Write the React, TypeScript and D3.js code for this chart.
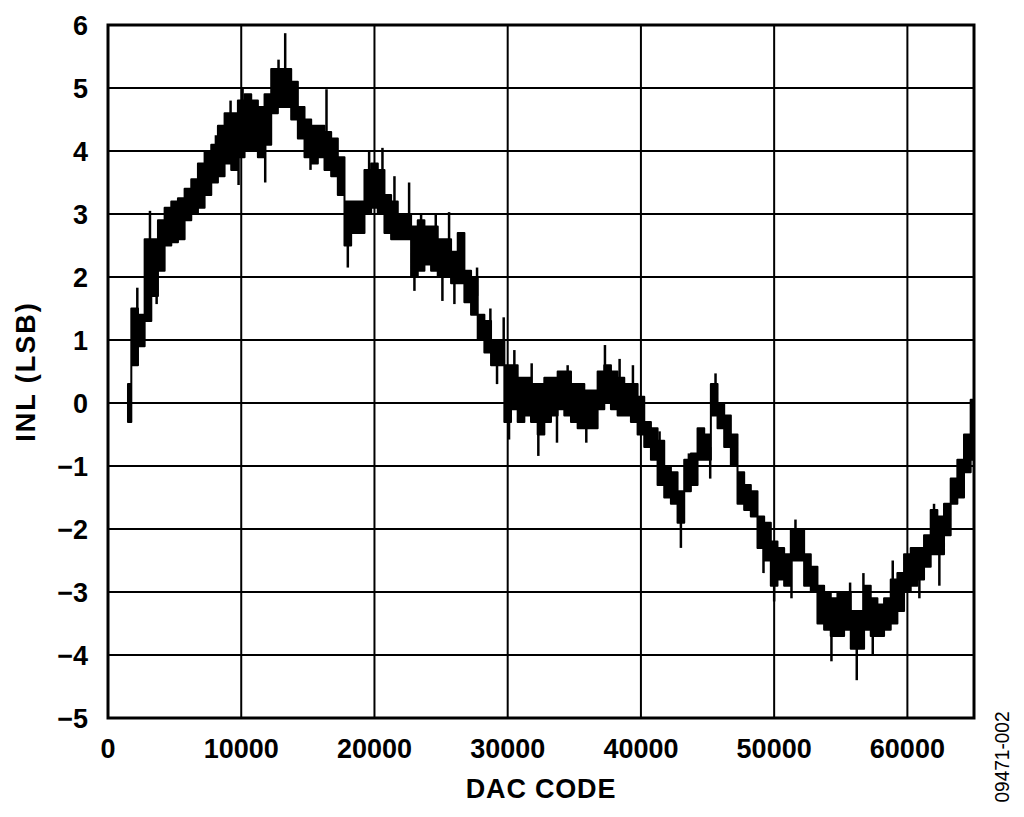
import * as d3 from "d3";

const WIDTH = 1024;
const HEIGHT = 817;
const MARGIN = { top: 25, right: 50, bottom: 99, left: 108 };
const FONT = "'Liberation Sans', Arial, Helvetica, sans-serif";

// DAC code sample points and the INL band (low/high)
const codes = [
  1500, 2000, 2500, 3000, 3500, 4000, 4500, 5000, 5500, 6000, 6500, 7000, 7500, 8000,
  8500, 9000, 9500, 10000, 10500, 11000, 11500, 12000, 12500, 13000, 13500, 14000,
  14500, 15000, 15500, 16000, 16500, 17000, 17500, 18000, 18500, 19000, 19500, 20000,
  20500, 21000, 21500, 22000, 22500, 23000, 23500, 24000, 24500, 25000, 25500, 26000,
  26500, 27000, 27500, 28000, 28500, 29000, 29500, 30000, 30500, 31000, 31500, 32000,
  32500, 33000, 33500, 34000, 34500, 35000, 35500, 36000, 36500, 37000, 37500, 38000,
  38500, 39000, 39500, 40000, 40500, 41000, 41500, 42000, 42500, 43000, 43500, 44000,
  44500, 45000, 45500, 46000, 46500, 47000, 47500, 48000, 48500, 49000, 49500, 50000,
  50500, 51000, 51500, 52000, 52500, 53000, 53500, 54000, 54500, 55000, 55500, 56000,
  56500, 57000, 57500, 58000, 58500, 59000, 59500, 60000, 60500, 61000, 61500, 62000,
  62500, 63000, 63500, 64000, 64500, 65000,
];

const bandLo = [
  -0.3, 0.6, 0.9, 1.3, 1.7, 2.1, 2.5, 2.55, 2.6, 2.9, 3.0, 3.1, 3.3, 3.5,
  3.6, 3.8, 3.7, 3.9, 4.0, 4.0, 3.9, 4.1, 4.6, 4.7, 4.7, 4.5,
  4.2, 3.9, 3.8, 3.9, 3.7, 3.6, 3.3, 2.5, 2.7, 2.7, 3.0, 3.1,
  3.0, 2.7, 2.6, 2.6, 2.6, 2.0, 2.1, 2.2, 2.1, 2.0, 2.0, 1.9,
  1.9, 1.6, 1.4, 1.0, 0.8, 0.6, 0.6, -0.3, -0.1, -0.3, -0.2, -0.3,
  -0.5, -0.3, -0.2, -0.1, -0.2, -0.3, -0.4, -0.4, -0.4, -0.1, 0.0, -0.1,
  -0.2, -0.2, -0.3, -0.5, -0.7, -0.9, -1.3, -1.5, -1.6, -1.9, -1.4, -1.3,
  -0.9, -0.9, -0.2, -0.4, -0.7, -1.0, -1.6, -1.7, -1.8, -2.3, -2.5, -2.9,
  -2.8, -2.9, -2.5, -2.5, -2.9, -3.0, -3.5, -3.6, -3.7, -3.7, -3.6, -3.9,
  -3.9, -3.6, -3.7, -3.7, -3.6, -3.5, -3.3, -3.0, -2.9, -2.8, -2.6, -2.4,
  -2.4, -2.1, -1.6, -1.5, -1.1, -0.9,
];

const bandHi = [
  0.3, 1.5, 1.4, 2.6, 2.6, 2.9, 3.1, 3.2, 3.25, 3.4, 3.55, 3.8, 4.0, 4.1,
  4.4, 4.6, 4.6, 4.8, 4.9, 4.8, 4.7, 4.9, 5.3, 5.3, 5.3, 5.1,
  4.7, 4.5, 4.4, 4.4, 4.3, 4.2, 3.9, 3.2, 3.2, 3.2, 3.7, 3.8,
  3.7, 3.3, 3.2, 3.0, 3.0, 2.8, 2.9, 2.8, 2.8, 2.6, 2.6, 2.4,
  2.7, 2.1, 2.0, 1.4, 1.3, 1.0, 1.0, 0.6, 0.6, 0.4, 0.4, 0.3,
  0.3, 0.4, 0.4, 0.5, 0.5, 0.3, 0.3, 0.2, 0.2, 0.5, 0.6, 0.5,
  0.4, 0.3, 0.3, 0.1, -0.3, -0.4, -0.6, -1.0, -1.1, -1.4, -0.9, -0.8,
  -0.4, -0.5, 0.3, 0.0, -0.2, -0.5, -1.1, -1.3, -1.4, -1.8, -1.9, -2.2,
  -2.3, -2.4, -2.0, -2.0, -2.4, -2.6, -2.9, -3.0, -3.1, -3.0, -3.0, -3.3,
  -3.3, -2.9, -3.1, -3.2, -3.1, -2.8, -2.7, -2.4, -2.3, -2.3, -2.1, -1.7,
  -1.8, -1.6, -1.2, -0.9, -0.5, 0.05,
];

// isolated noise spikes (code, INL value)
const spikeCodes = [
  1600, 2200, 3150, 3650, 8100, 9200, 9800, 10100, 11800, 12800, 13300, 15200,
  16400, 18000, 19600, 20600, 21500, 22600, 23000, 23500, 24600, 25100, 25600, 26000,
  27700, 28700, 29200, 29700, 30100, 30500, 31800, 32300, 33700, 34500, 35900, 37300,
  38400, 39400, 41400, 43000, 43600, 45200, 45600, 49200, 50000, 51300, 51600, 54300,
  55700, 56200, 56700, 57400, 58900, 60900, 62000, 62400,
];
const spikeValues = [
  -0.3, 1.83, 3.05, 1.57, 4.25, 4.8, 3.46, 5.0, 3.5, 5.45, 5.87, 3.7,
  4.98, 2.15, 4.0, 4.05, 3.6, 3.5, 1.78, 3.0, 3.0, 1.62, 3.03, 1.57,
  2.15, 1.5, 0.3, 1.36, -0.58, 0.84, 0.63, -0.84, -0.63, 0.6, -0.63, 0.92,
  0.7, 0.6, -0.45, -2.3, -0.8, -1.2, 0.47, -2.7, -3.15, -3.1, -1.85, -4.1,
  -2.85, -4.4, -2.7, -4.0, -2.5, -3.1, -1.6, -2.9,
];

const xTicks = [0, 10000, 20000, 30000, 40000, 50000, 60000];
const yTicks = [-5, -4, -3, -2, -1, 0, 1, 2, 3, 4, 5, 6];

const fmtY = (v: number) => (v < 0 ? "\u2212" + Math.abs(v) : String(v));

export default function App() {
  const innerW = WIDTH - MARGIN.left - MARGIN.right;
  const innerH = HEIGHT - MARGIN.top - MARGIN.bottom;

  const x = d3.scaleLinear().domain([0, 65000]).range([0, innerW]);
  const y = d3.scaleLinear().domain([-5, 6]).range([innerH, 0]);

  const band = codes.map((c, i) => ({ c, lo: bandLo[i], hi: bandHi[i] }));

  const area = d3
    .area<{ c: number; lo: number; hi: number }>()
    .x((d) => x(d.c))
    .y0((d) => y(d.lo))
    .y1((d) => y(d.hi))
    .curve(d3.curveStep);

  // middle of the band at the sample nearest to a spike
  const nearest = (c: number) => {
    let best = 0;
    codes.forEach((k, i) => {
      if (Math.abs(k - c) < Math.abs(codes[best] - c)) best = i;
    });
    return (bandLo[best] + bandHi[best]) / 2;
  };

  return (
    <svg
      width={WIDTH}
      height={HEIGHT}
      style={{ position: "absolute", left: 0, top: 0, background: "#fff" }}
    >
      <defs>
        <clipPath id="plot-clip">
          <rect width={innerW} height={innerH} />
        </clipPath>
      </defs>
      <g transform={`translate(${MARGIN.left},${MARGIN.top})`}>
        {/* grid */}
        {xTicks.slice(1).map((t) => (
          <line key={"gx" + t} x1={x(t)} x2={x(t)} y1={0} y2={innerH} stroke="#000" strokeWidth={2} />
        ))}
        {yTicks.slice(1, -1).map((t) => (
          <line key={"gy" + t} x1={0} x2={innerW} y1={y(t)} y2={y(t)} stroke="#000" strokeWidth={2} />
        ))}

        {/* INL trace */}
        <g clipPath="url(#plot-clip)">
          <path d={area(band) || ""} fill="#000" stroke="#000" strokeWidth={2} strokeLinejoin="round" />
          {spikeCodes.map((c, i) => (
            <line
              key={"s" + i}
              x1={x(c)}
              x2={x(c)}
              y1={y(nearest(c))}
              y2={y(spikeValues[i])}
              stroke="#000"
              strokeWidth={2.5}
            />
          ))}
        </g>

        <rect width={innerW} height={innerH} fill="none" stroke="#000" strokeWidth={3} />

        {/* tick labels */}
        {xTicks.map((t) => (
          <text
            key={"tx" + t}
            x={x(t)}
            y={innerH + 40}
            textAnchor="middle"
            fontFamily={FONT}
            fontWeight="bold"
            fontSize={27}
          >
            {t}
          </text>
        ))}
        {yTicks.map((t) => (
          <text
            key={"ty" + t}
            x={-20}
            y={y(t)}
            dy="0.36em"
            textAnchor="end"
            fontFamily={FONT}
            fontWeight="bold"
            fontSize={27}
          >
            {fmtY(t)}
          </text>
        ))}

        <text
          x={innerW / 2}
          y={innerH + 80}
          textAnchor="middle"
          fontFamily={FONT}
          fontWeight="bold"
          fontSize={27}
          letterSpacing={0.8}
        >
          DAC CODE
        </text>
        <text
          transform={`translate(${-73},${innerH / 2}) rotate(-90)`}
          textAnchor="middle"
          fontFamily={FONT}
          fontWeight="bold"
          fontSize={27}
          letterSpacing={2}
        >
          INL (LSB)
        </text>
      </g>
      <text
        transform={`translate(1009,757) rotate(-90)`}
        textAnchor="middle"
        fontFamily={FONT}
        fontSize={20}
        textLength={91}
        lengthAdjust="spacingAndGlyphs"
      >
        09471-002
      </text>
    </svg>
  );
}
